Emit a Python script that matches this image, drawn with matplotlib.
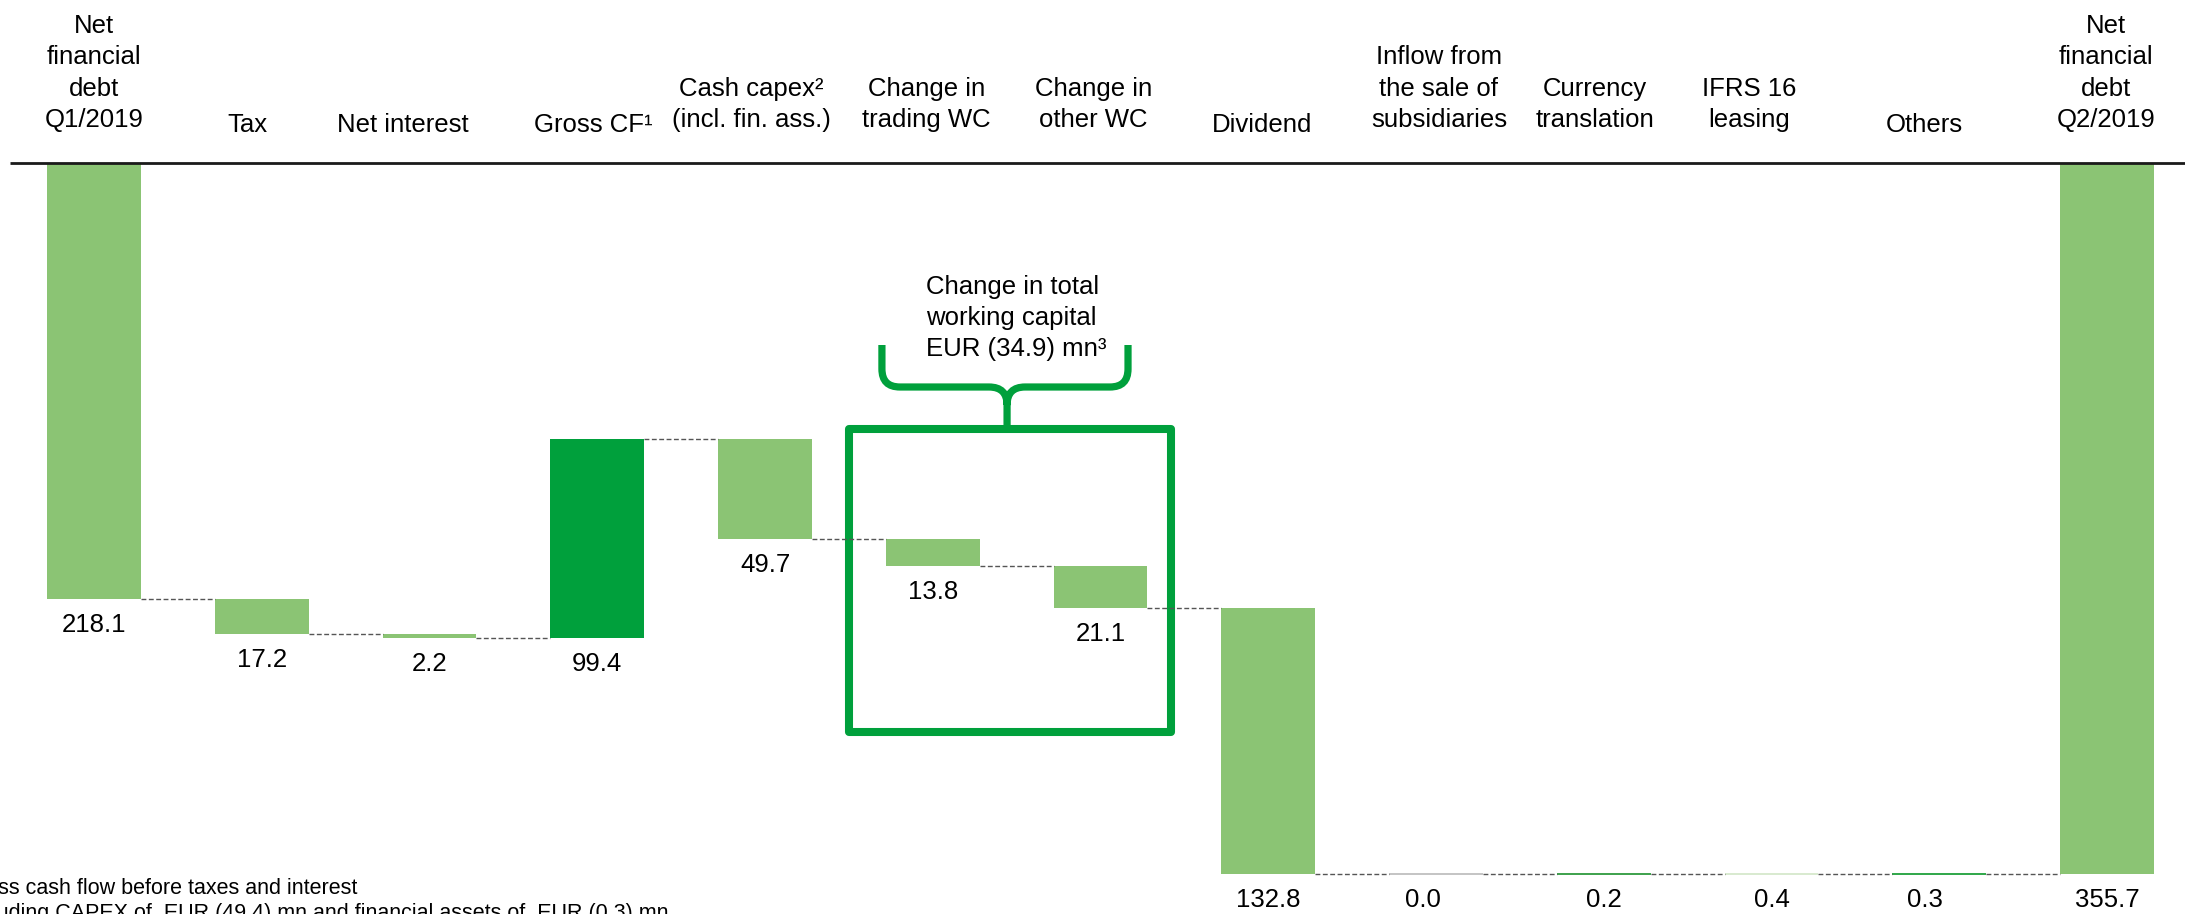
import matplotlib
matplotlib.use("Agg")
import matplotlib.pyplot as plt
from matplotlib.path import Path
from matplotlib.patches import PathPatch, Rectangle

plt.rcParams['font.family'] = ['Liberation Sans', 'DejaVu Sans']

# categories along the bridge (header labels)
labels = ["Net\nfinancial\ndebt\nQ1/2019", "Tax", "Net interest", "Gross CF¹",
          "Cash capex²\n(incl. fin. ass.)", "Change in\ntrading WC", "Change in\nother WC",
          "Dividend", "Inflow from\nthe sale of\nsubsidiaries", "Currency\ntranslation",
          "IFRS 16\nleasing", "Others", "Net\nfinancial\ndebt\nQ2/2019"]
# EUR mn: opening debt, the movements, closing debt
start_debt = 218.1
deltas = [17.2, 2.2, -99.4, 49.7, 13.8, 21.1, 132.8, 0.0, -0.2, 0.4, -0.3]
end_debt = 355.7
value_text = ["218.1", "17.2", "2.2", "99.4", "49.7", "13.8", "21.1", "132.8",
              "0.0", "0.2", "0.4", "0.3", "355.7"]
wc_text = "Change in total\nworking capital\nEUR (34.9) mn³"
notes = ["¹ Gross cash flow before taxes and interest",
         "² Including CAPEX of  EUR (49.4) mn and financial assets of  EUR (0.3) mn"]

# colours
light = "#8BC474"
dark = "#00A03C"
bar_colors = [light, light, light, dark, light, light, light, light,
              "#BFBFBF", "#2E9A3E", "#D5E8CC", "#1FA03A", light]
# small horizontal nudges (pixels) for labels as laid out on the slide
head_dx = [0, -14, -27, -4, -14, -6, -7, -6, 3, -9, -22, -15, -1]
val_dx = [0, 0, 0, 0, 0, 0, 0, 0, -13, 0, 0, -14, 0]

fig = plt.figure(figsize=(21.85, 9.14), dpi=100)
ax = fig.add_axes([0, 0, 1, 1])
ax.set_xlim(-0.5604, 12.465)
ax.set_ylim(375.5, -81.5)
ax.axis('off')

w = 0.56
n = len(labels)
xs = list(range(n))

# build the waterfall segments
bottoms, heights = [0], [start_debt]
run = start_debt
for d in deltas:
    bottoms.append(run)
    heights.append(d)
    run += d
bottoms.append(0)
heights.append(end_debt)

for i in xs:
    small = abs(heights[i]) < 1
    ax.bar(xs[i], heights[i], bottom=bottoms[i], width=w, color=bar_colors[i],
           edgecolor=bar_colors[i] if small else 'none', linewidth=1.3 if small else 0)
    low = max(bottoms[i], bottoms[i] + heights[i])
    ax.annotate(value_text[i], (xs[i], low + 13), xytext=(val_dx[i], 0),
                textcoords='offset pixels', ha='center', va='center', fontsize=18.5)

# dashed connectors between bars
for i in range(n - 1):
    lvl = bottoms[i] + heights[i]
    ax.plot([xs[i] + w / 2, xs[i + 1] - w / 2], [lvl, lvl], color='#555555',
            lw=1.0, linestyle=(0, (3.5, 1.8)))

# header row and rule
ax.plot([-0.5, 12.465], [0, 0], color='#1a1a1a', lw=2.0, solid_capstyle='butt')
for i in xs:
    dy = 0 if '\n' in labels[i] else -5
    ax.annotate(labels[i], (xs[i], -18), xytext=(head_dx[i], dy), textcoords='offset pixels',
                ha='center', va='baseline', fontsize=18.5, linespacing=1.39)

# box round the working-capital bars
ax.add_patch(Rectangle((4.5, 133), 1.92, 151.5, fill=False, edgecolor=dark,
                       lw=5.8, joinstyle='round'))

# curly brace above the box
xl, xr, xt = 4.697, 6.164, 5.443
yt, ym, yb = 91, 112, 131
rx, ry = 18 / 167.75, 9
verts = [(xl, yt), (xl, ym - ry), (xl, ym), (xl + rx, ym), (xt - rx, ym), (xt, ym), (xt, ym + ry), (xt, yb),
         (xr, yt), (xr, ym - ry), (xr, ym), (xr - rx, ym), (xt + rx, ym), (xt, ym), (xt, ym + ry)]
codes = [Path.MOVETO, Path.LINETO, Path.CURVE3, Path.CURVE3, Path.LINETO, Path.CURVE3, Path.CURVE3, Path.LINETO,
         Path.MOVETO, Path.LINETO, Path.CURVE3, Path.CURVE3, Path.LINETO, Path.CURVE3, Path.CURVE3]
ax.add_patch(PathPatch(Path(verts, codes), fill=False, edgecolor=dark, lw=5.2, capstyle='butt'))
ax.text(5.50, 77.5, wc_text, ha='center', va='center', multialignment='left',
        fontsize=18.5, linespacing=1.39)

# footnotes (cut at the slide edge)
fig.text(357 / 2185, 1 - 888 / 914, notes[0], ha='right', va='center', fontsize=15.5)
fig.text(668 / 2185, 1 - 913 / 914, notes[1], ha='right', va='center', fontsize=15.5)

fig.savefig("out.png", dpi=100)
